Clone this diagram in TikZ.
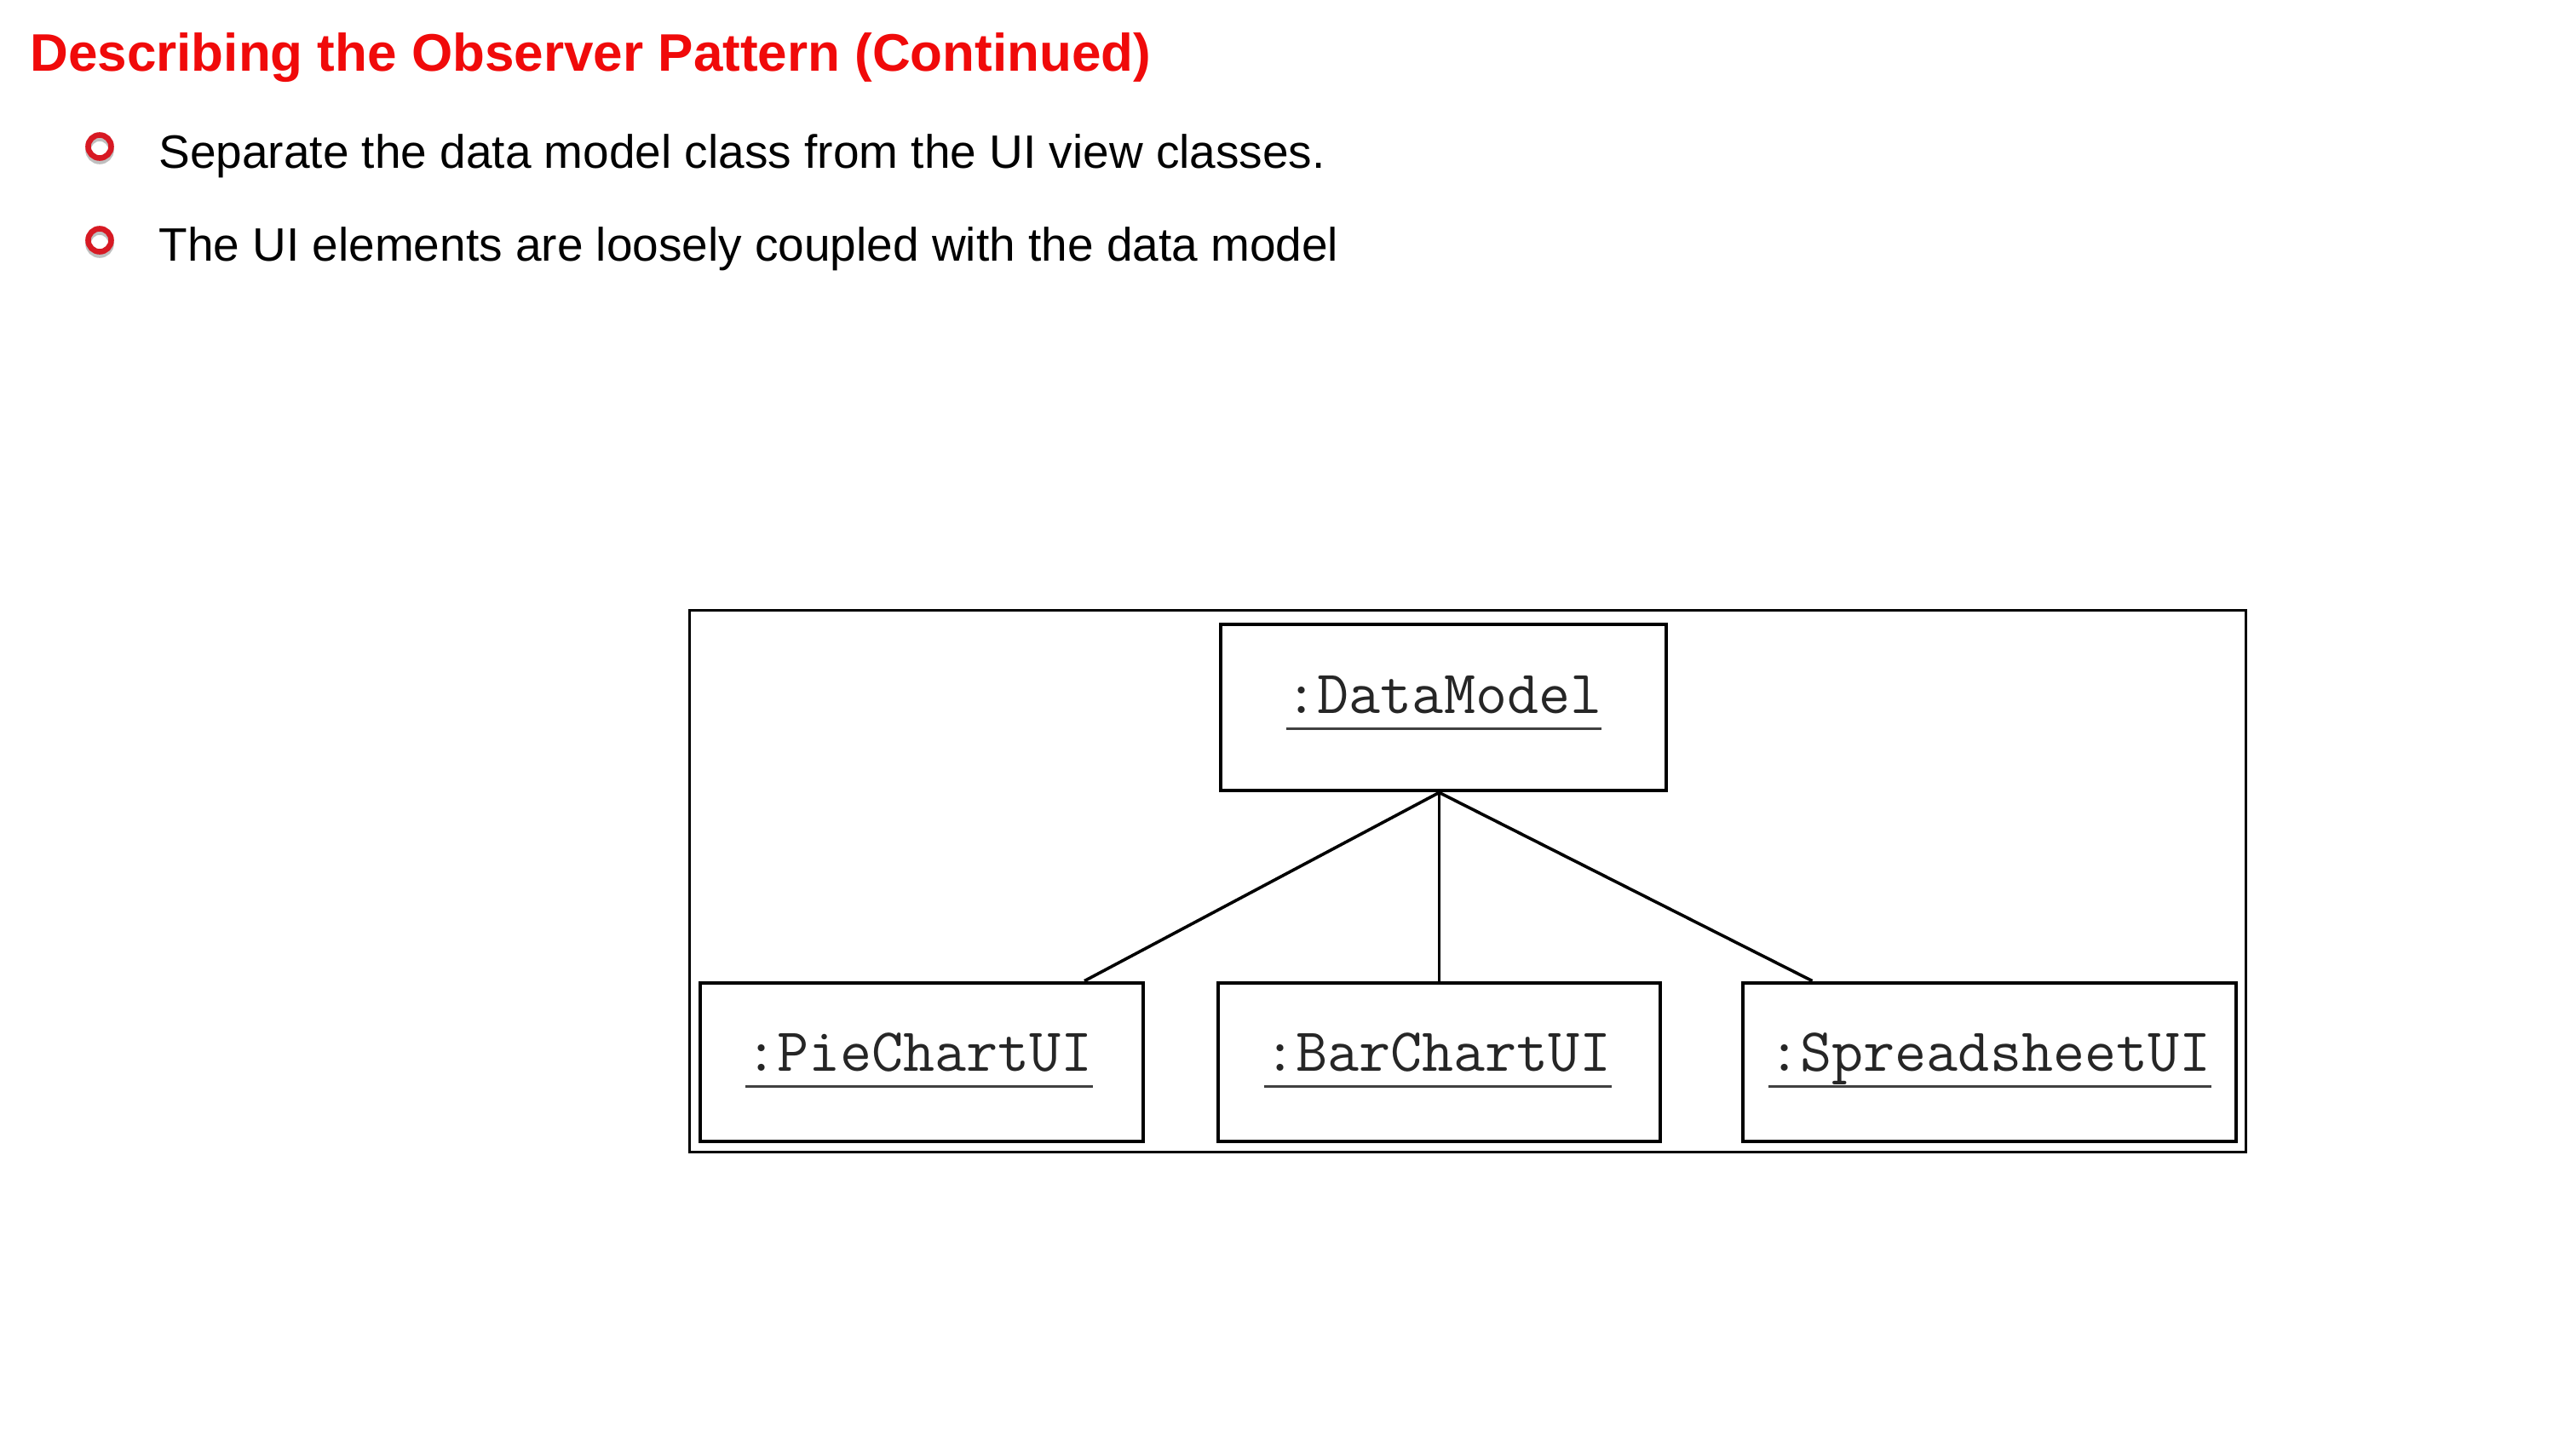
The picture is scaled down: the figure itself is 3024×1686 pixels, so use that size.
\documentclass[tikz,border=0pt]{standalone}
\usepackage{fontspec}
\setmainfont{Liberation Sans}
\usetikzlibrary{calc}
\newdimen\pxu \pxu=0.5pt
\definecolor{titlered}{RGB}{240,10,10}
\definecolor{ringred}{RGB}{215,25,35}
\newcommand\ulbox[1]{\setbox0\hbox{#1}\leavevmode\rlap{\color{black!75}\rule[-20\pxu]{\wd0}{3\pxu}}\box0}
\tikzset{
  titletext/.style={anchor=base west, inner sep=0pt, text=titlered, font=\fontsize{31pt}{36pt}\selectfont\bfseries},
  bullettext/.style={anchor=base west, inner sep=0pt, text=black, font=\fontsize{27.5pt}{33pt}\selectfont},
  ring/.style={draw=ringred, line width=3.3pt},
  ringshadow/.style={draw=black!25, line width=3.3pt},
  objbox/.style={draw=black, line width=2.4pt, fill=white, inner sep=0pt},
  objlabel/.style={anchor=base, inner sep=0pt, text=black!85, font=\ttfamily\fontsize{36pt}{42pt}\selectfont},
  link/.style={draw=black, line width=1.8pt},
  frame/.style={draw=black, line width=1.5pt}
}
\begin{document}
\begin{tikzpicture}[x=0.5pt,y=-0.5pt]
\useasboundingbox[fill=white] (0,0) rectangle (3024,1686);
% title and bullets
\node[titletext] (title) at (35,84) {Describing the Observer Pattern (Continued)};
\draw[ringshadow] (117,176) circle[radius=13.5];
\draw[ring] (117,172) circle[radius=13.5];
\node[bullettext] (b1) at (186,197) {Separate the data model class from the UI view classes.};
\draw[ringshadow] (117,286) circle[radius=13.5];
\draw[ring] (117,282) circle[radius=13.5];
\node[bullettext] (b2) at (186,306) {The UI elements are loosely coupled with the data model};
% frame
\draw[frame] (809,716) rectangle (2636,1352);
% boxes
\node[objbox, minimum width=523\pxu, minimum height=195\pxu] (dm) at (1694.5,830.5) {};
\node[objbox, minimum width=520\pxu, minimum height=186\pxu] (pie) at (1082,1247) {};
\node[objbox, minimum width=519\pxu, minimum height=186\pxu] (bar) at (1689.5,1247) {};
\node[objbox, minimum width=579\pxu, minimum height=186\pxu] (spr) at (2335.5,1247) {};
% labels
\node[objlabel] (dmt) at (1695,837) {\ulbox{:DataModel}};
\node[objlabel] (piet) at (1079,1257) {\ulbox{:PieChartUI}};
\node[objlabel] (bart) at (1688,1257) {\ulbox{:BarChartUI}};
\node[objlabel] (sprt) at (2336,1257) {\ulbox{:SpreadsheetUI}};
% connectors
\coordinate (hub) at (bar.north |- dm.south);
\draw[link] (hub) -- ($(pie.north)+(191,0)$);
\draw[link] (hub) -- (bar.north);
\draw[link] (hub) -- ($(spr.north)+(-208,0)$);
\end{tikzpicture}
\end{document}
